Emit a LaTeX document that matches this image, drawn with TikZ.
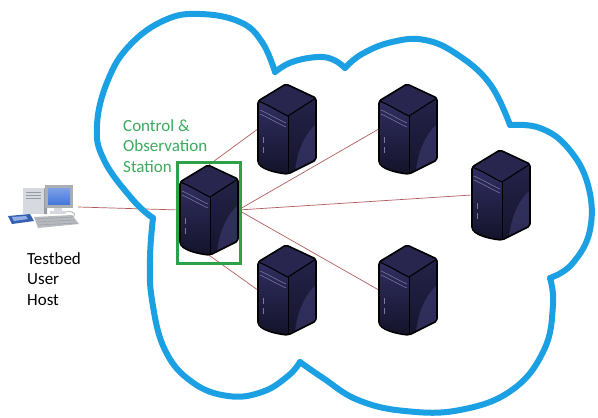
\documentclass[tikz,border=0pt]{standalone}
\usepackage{fontspec}
\setmainfont{Carlito}
\begin{document}
\begin{tikzpicture}[x=1pt,y=-1pt,
  cloudline/.style={draw=cloudblue,line width=6pt,line join=round,line cap=round},
  link/.style={draw=linkred,line width=0.7pt},
  slot/.style={minimum width=58pt,minimum height=90pt,inner sep=0pt,draw=none},
  label/.style={font=\fontsize{17}{20.5}\selectfont,align=left,inner sep=0pt,anchor=north west},
  server/.pic={
    % right face
    \shade[top color=srvsideA,bottom color=srvsideB,rounded corners=2pt]
      (1,-13) -- (29,-31) -- (29,31) -- (1,45) -- cycle;
    \fill[srvshine,opacity=0.55] (29,-5) .. controls (18,5) and (10,22) .. (8,42) -- (1,45) -- (29,31) -- cycle;
    % front face
    \shade[top color=srvfrontA,bottom color=srvfrontB]
      (-29,-28) .. controls (-18,-24) and (-8,-17) .. (1,-13) -- (1,45)
      .. controls (-10,44) and (-29,40) .. (-29,30) -- cycle;
    % top face
    \fill[srvtop] (-1,-45) -- (-29,-28) .. controls (-18,-24) and (-8,-17) .. (1,-13) -- (29,-31) -- cycle;
    % outline and edges
    \draw[black,line width=1.6pt,line join=round,rounded corners=2pt]
      (-1,-45) -- (-29,-28) -- (-29,30) .. controls (-29,40) and (-10,44) .. (1,45)
      -- (29,31) -- (29,-31) -- cycle;
    \draw[black,line width=1.1pt] (-29,-28) .. controls (-18,-24) and (-8,-17) .. (1,-13) -- (29,-31);
    \draw[black,line width=0.6pt] (1,-13) -- (1,45);
    % drive bays
    \draw[srvline,line width=0.6pt] (-27,-19) .. controls (-18,-15) and (-10,-10) .. (-1,-6);
    \draw[srvline,line width=0.6pt] (-27,-15) .. controls (-18,-11) and (-10,-6) .. (-1,-2);
    % status lights
    \draw[srvline,line width=0.8pt] (-24,8) -- (-24,14);
    \draw[srvline,line width=0.8pt] (-24,18) -- (-24,24);
  }]
\definecolor{cloudblue}{RGB}{27,160,228}
\definecolor{linkred}{RGB}{178,92,92}
\definecolor{boxgreen}{RGB}{46,160,72}
\definecolor{textgreen}{RGB}{60,170,95}
\definecolor{srvtop}{RGB}{40,38,78}
\definecolor{srvfrontA}{RGB}{48,46,96}
\definecolor{srvfrontB}{RGB}{20,19,42}
\definecolor{srvsideA}{RGB}{36,34,72}
\definecolor{srvsideB}{RGB}{22,21,46}
\definecolor{srvshine}{RGB}{66,64,120}
\definecolor{srvline}{RGB}{120,118,160}
\definecolor{pcgray}{RGB}{214,218,224}
\definecolor{pcdark}{RGB}{150,156,166}
\definecolor{pcblue}{RGB}{70,120,220}

\useasboundingbox (0,0) rectangle (598,418);
\fill[white] (0,0) rectangle (598,418);

% server placeholders
\node[slot] (co)   at (209,210) {};
\node[slot] (top1) at (287,129) {};
\node[slot] (top2) at (408,129) {};
\node[slot] (east) at (501,195) {};
\node[slot] (bot1) at (287,290) {};
\node[slot] (bot2) at (408,290) {};
\node[minimum width=73pt,minimum height=46pt,inner sep=0pt] (host) at (41.5,207) {};

% network links
\draw[link] (host.east) -- (co.west);
\draw[link] (co.north) -- (top1.west);
\draw[link] (co.east) -- (top2.west);
\draw[link] (co.east) -- (east.west);
\draw[link] (co.east) -- (bot2.west);
\draw[link] (co.south) -- (bot1.west);

% cloud outline
\draw[cloudline] plot[smooth,tension=0.7] coordinates
  {(153,218) (133,200) (104,160) (97,125) (108,80) (130,45) (165,20) (200,14) (240,22) (262,42) (275,72)};
\draw[cloudline] plot[smooth,tension=0.7] coordinates
  {(275,72) (292,62) (318,57) (334,60) (345,68)};
\draw[cloudline] plot[smooth,tension=0.7] coordinates
  {(345,68) (362,54) (392,42) (425,40) (458,55) (490,84) (510,125)};
\draw[cloudline] plot[smooth,tension=0.7] coordinates
  {(510,125) (540,128) (568,148) (588,185) (590,230) (572,264) (550,278)};
\draw[cloudline] plot[smooth,tension=0.7] coordinates
  {(550,278) (553,305) (544,350) (512,390) (460,410) (405,411) (358,400) (323,378) (300,362)};
\draw[cloudline] plot[smooth,tension=0.7] coordinates
  {(300,362) (288,376) (262,392) (228,396) (192,382) (165,350) (152,300) (150,258) (153,218)};

% servers
\foreach \s in {co,top1,top2,east,bot1,bot2}
  \pic at (\s) {server};

% control station frame
\node[draw=boxgreen,line width=3pt,minimum width=63pt,minimum height=101pt,inner sep=0pt] (frame) at (208.5,212.5) {};

% user host workstation
\fill[pcblue!80!black] (8,216) -- (30,214) -- (34,221) -- (12,224) -- cycle;
\fill[pcblue!60!white] (12,217) -- (26,216) -- (28,219) -- (14,221) -- cycle;
\fill[pcgray] (23,188) rectangle (44,214);
\fill[pcdark] (44,188) -- (47,190) -- (47,214) -- (44,214) -- cycle;
\draw[pcdark,line width=0.5pt] (26,192) -- (41,192) (26,195) -- (41,195) (26,198) -- (41,198);
\fill[pcgray] (54,206) rectangle (62,212);
\fill[pcgray] (50,211) rectangle (66,214);
\fill[pcgray!80!black] (45,185) rectangle (73,208);
\shade[top color=pcblue!70!white,bottom color=pcblue] (48,188) rectangle (70,204);
\draw[pcdark,line width=0.6pt] (66,212) .. controls (75,210) and (78,216) .. (70,218);
\fill[pcgray!85!black] (34,217) -- (72,215) -- (79,224) -- (38,228) -- cycle;
\foreach \i in {0,1,2}
  \draw[pcdark,line width=0.4pt] (36+1.4*\i,219+3*\i) -- (73+2*\i,217+3*\i);

% labels
\node[label,text=textgreen] (costation) at (123,119) {Control \&\\Observation\\Station};
\node[label,text=black] (hostlabel) at (27,252) {Testbed\\User\\Host};
\end{tikzpicture}
\end{document}
